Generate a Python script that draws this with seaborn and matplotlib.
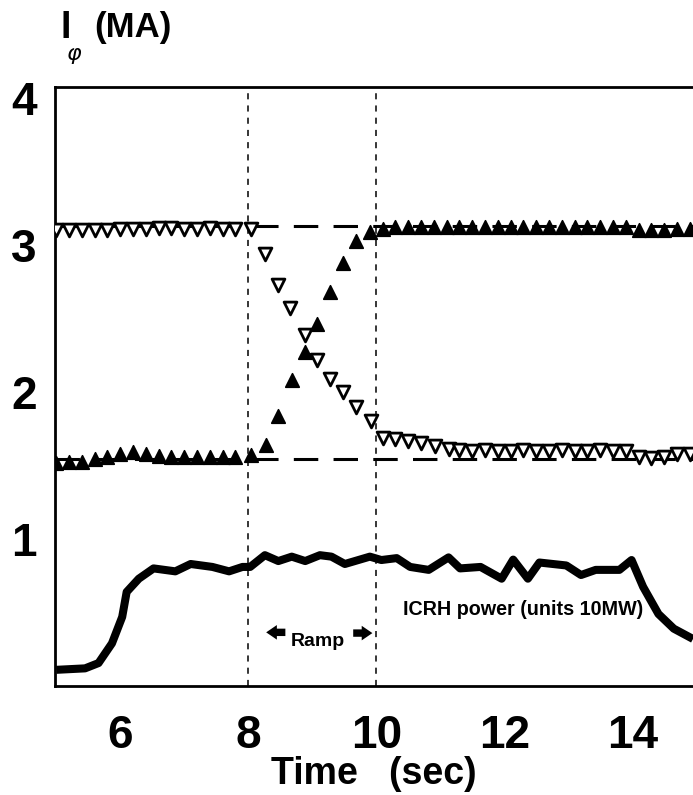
import matplotlib
matplotlib.use("Agg")
import matplotlib.pyplot as plt
import seaborn as sns
import pandas as pd
from matplotlib.ticker import MultipleLocator, FixedLocator, FuncFormatter

sns.set_theme(style="white")
plt.rcParams["font.family"] = ["Liberation Sans", "DejaVu Sans"]
for k in ["text.color", "axes.labelcolor", "xtick.color", "ytick.color", "axes.edgecolor"]:
    plt.rcParams[k] = "black"

# ---- data ----
# filled up-triangles (current rising from ~1.5 to ~3.1 MA)
up_time = [5.0, 5.2, 5.4, 5.6, 5.8, 6.0, 6.2, 6.4, 6.6, 6.8, 7.0, 7.2, 7.4, 7.6, 7.8, 8.05,
           8.27, 8.47, 8.68, 8.89, 9.08, 9.28, 9.48, 9.69, 9.9,
           10.1, 10.3, 10.5, 10.7, 10.9, 11.1, 11.3, 11.5, 11.7, 11.9, 12.1, 12.3, 12.5,
           12.7, 12.9, 13.1, 13.3, 13.5, 13.7, 13.9, 14.1, 14.3, 14.5, 14.7, 14.9]
up_curr = [1.52, 1.525, 1.525, 1.545, 1.56, 1.58, 1.59, 1.58, 1.565, 1.56, 1.56, 1.56, 1.56, 1.56, 1.56, 1.57,
           1.64, 1.84, 2.08, 2.27, 2.46, 2.68, 2.88, 3.03, 3.09,
           3.11, 3.12, 3.125, 3.125, 3.12, 3.125, 3.125, 3.12, 3.125, 3.125, 3.12, 3.125, 3.125,
           3.12, 3.125, 3.125, 3.12, 3.125, 3.125, 3.12, 3.10, 3.10, 3.105, 3.11, 3.11]

# open down-triangles (current falling from ~3.1 to ~1.6 MA)
dn_time = [5.0, 5.2, 5.4, 5.6, 5.8, 6.0, 6.2, 6.4, 6.6, 6.8, 7.0, 7.2, 7.4, 7.6, 7.8, 8.05,
           8.26, 8.46, 8.66, 8.89, 9.08, 9.28, 9.48, 9.69, 9.92,
           10.11, 10.3, 10.5, 10.7, 10.92, 11.13, 11.3, 11.5, 11.7, 11.9, 12.1, 12.3, 12.5,
           12.7, 12.9, 13.1, 13.3, 13.5, 13.7, 13.9, 14.1, 14.3, 14.5, 14.7, 14.9]
dn_curr = [3.10, 3.10, 3.10, 3.105, 3.105, 3.11, 3.11, 3.11, 3.115, 3.115, 3.11, 3.11, 3.115, 3.11, 3.11, 3.11,
           2.94, 2.73, 2.57, 2.39, 2.22, 2.09, 2.00, 1.90, 1.80,
           1.69, 1.68, 1.67, 1.655, 1.63, 1.61, 1.605, 1.60, 1.605, 1.60, 1.60, 1.605, 1.60,
           1.60, 1.605, 1.60, 1.60, 1.605, 1.60, 1.60, 1.555, 1.55, 1.56, 1.58, 1.58]

# ICRH power (units of 10 MW)
pw_time = [5.0, 5.45, 5.66, 5.87, 6.03, 6.1, 6.29, 6.52, 6.86, 7.1, 7.44, 7.7, 7.91, 8.03,
           8.26, 8.47, 8.68, 8.89, 9.12, 9.3, 9.51, 9.9, 10.08, 10.32, 10.53, 10.82, 11.13,
           11.31, 11.63, 11.96, 12.14, 12.37, 12.55, 12.97, 13.2, 13.43, 13.8, 13.99, 14.17,
           14.41, 14.65, 14.95]
pw_val = [0.11, 0.12, 0.156, 0.29, 0.47, 0.64, 0.73, 0.80, 0.78, 0.83, 0.81, 0.78, 0.81, 0.81,
          0.89, 0.85, 0.88, 0.85, 0.89, 0.88, 0.83, 0.88, 0.857, 0.87, 0.81, 0.79, 0.875,
          0.80, 0.81, 0.73, 0.86, 0.73, 0.84, 0.82, 0.755, 0.79, 0.79, 0.857, 0.675,
          0.49, 0.39, 0.32]

ref_levels = [3.13, 1.545]
ramp_edges = [8.0, 10.0]
x_labels = [6, 8, 10, 12, 14]
y_labels = [1, 2, 3, 4]

up_df = pd.DataFrame({"t": up_time, "I": up_curr})
dn_df = pd.DataFrame({"t": dn_time, "I": dn_curr})
pw_df = pd.DataFrame({"t": pw_time, "P": pw_val})

fig = plt.figure(figsize=(6.93, 7.95), dpi=100)
ax = fig.add_axes([55 / 693, 1 - 686 / 795, 1 - 55 / 693, (686 - 87) / 795])
ax.set_xlim(4.98, 14.95)
ax.set_ylim(0, 4.075)

for lv in ref_levels:
    ax.axhline(lv, color="black", lw=2.2, dashes=(8, 5), zorder=1)
for xe in ramp_edges:
    ax.axvline(xe, color="black", lw=1.1, dashes=(4, 4), zorder=1)

sns.lineplot(data=pw_df, x="t", y="P", ax=ax, color="black", lw=5.8,
             solid_joinstyle="round", solid_capstyle="butt", zorder=3)
sns.scatterplot(data=up_df, x="t", y="I", ax=ax, marker="^", s=95,
                color="black", edgecolor="black", linewidth=1.2, zorder=4)
sns.scatterplot(data=dn_df, x="t", y="I", ax=ax, marker="v", s=85,
                facecolor="white", edgecolor="black", linewidth=2.0, zorder=4)

# spines / ticks
for side in ["left", "bottom", "top"]:
    ax.spines[side].set_visible(True)
    ax.spines[side].set_color("black")
    ax.spines[side].set_linewidth(2.0)
ax.spines["right"].set_visible(False)

ax.xaxis.set_major_locator(FixedLocator(x_labels))
ax.xaxis.set_minor_locator(MultipleLocator(0.1))
ax.yaxis.set_major_locator(FixedLocator(y_labels))
ax.yaxis.set_minor_locator(MultipleLocator(0.1))
ax.tick_params(axis="both", which="major", direction="in", length=6, width=1.5,
               labelsize=33, colors="black")
ax.tick_params(axis="x", which="major", pad=20)
ax.tick_params(axis="y", which="major", pad=13)
ax.tick_params(axis="both", which="minor", direction="in", length=2.5, width=1.0, colors="black")
ax.tick_params(axis="x", which="both", top=False)
ax.xaxis.set_major_formatter(FuncFormatter(lambda v, p: f"{int(v)}"))
ax.yaxis.set_major_formatter(FuncFormatter(lambda v, p: f"{int(v)}"))
for lab in ax.get_xticklabels() + ax.get_yticklabels():
    lab.set_fontweight("bold")

ax.set_xlabel("Time   (sec)", fontsize=27, fontweight="bold", labelpad=-1)
ax.set_ylabel("")

# y-axis title: I_phi (MA)
fig.text(61 / 693, 1 - 28 / 795, "I", fontsize=27, fontweight="bold", va="center", ha="left")
fig.text(67 / 693, 1 - 54 / 795, "φ", fontsize=16, fontstyle="italic", va="center", ha="left",
         family=["DejaVu Sans"])
fig.text(94 / 693, 1 - 28 / 795, "(MA)", fontsize=25, fontweight="bold", va="center", ha="left")

# annotations
ax.text(9.09, 0.30, "Ramp", fontsize=14, fontweight="bold", ha="center", va="center")
arrow_style = "simple,head_length=0.55,head_width=0.75,tail_width=0.38"
ax.annotate("", xy=(8.28, 0.365), xytext=(8.58, 0.365),
            arrowprops=dict(arrowstyle=arrow_style, lw=0, color="black", mutation_scale=14,
                            shrinkA=0, shrinkB=0))
ax.annotate("", xy=(9.94, 0.36), xytext=(9.64, 0.36),
            arrowprops=dict(arrowstyle=arrow_style, lw=0, color="black", mutation_scale=14,
                            shrinkA=0, shrinkB=0))
ax.text(10.42, 0.52, "ICRH power (units 10MW)", fontsize=14.2, fontweight="bold",
        ha="left", va="center")

fig.savefig("out.png", dpi=100)
